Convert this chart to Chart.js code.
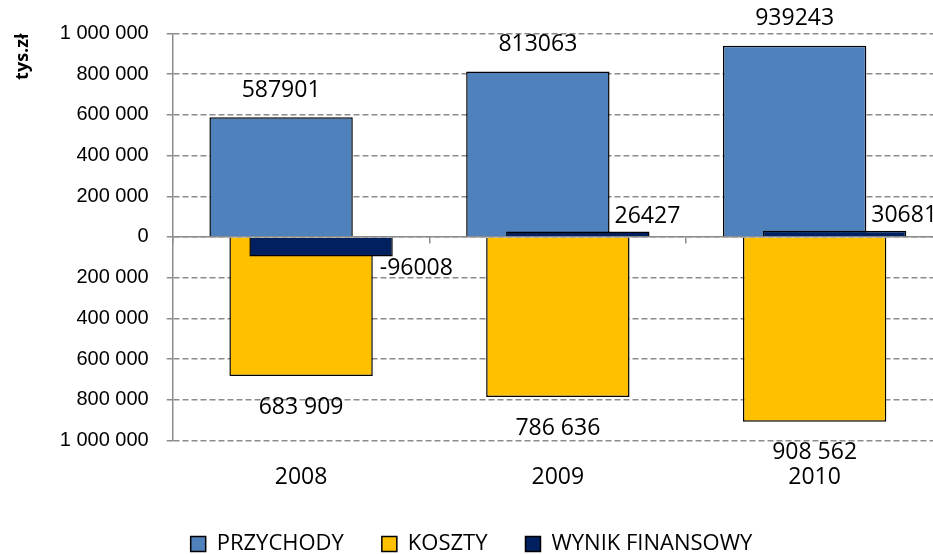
<!DOCTYPE html>
<html>
<head>
<meta charset="utf-8">
<title>Przychody, koszty, wynik finansowy</title>
<script src="https://cdn.jsdelivr.net/npm/chart.js@4.4.1/dist/chart.umd.min.js"></script>
<style>
  html, body { margin: 0; padding: 0; background: #fff; }
  /* the original picture is cropped on the right, so the canvas is a bit bigger than the frame */
  .frame { width: 933px; height: 554px; overflow: hidden; }
</style>
</head>
<body>
<div class="frame"><canvas id="chart" width="960" height="565"></canvas></div>
<script>
// data (tys. zł)
const years = ['2008', '2009', '2010'];
const przychody = [587901, 813063, 939243];
const koszty = [-683909, -786636, -908562];
const wynik = [-96008, 26427, 30681];

// value axis
const yMin = -1000000;
const yMax = 1000000;
const yStep = 200000;

const gridColor = '#8c8c8c';
const labelFont = '"Open Sans", "Noto Sans", sans-serif';

// 683909 -> "683 909"
const spaced = v => Math.abs(v).toString().replace(/\B(?=(\d{3})+(?!\d))/g, ' ');

// Excel puts the later series on top, so draw the bars in dataset order, then the value labels
const barLabels = {
  id: 'barLabels',
  beforeDatasetsDraw(chart) {
    chart.data.datasets.forEach((ds, i) => chart.getDatasetMeta(i).controller.draw());

    const ctx = chart.ctx;
    ctx.save();
    ctx.font = '23px ' + labelFont;
    ctx.fillStyle = '#000';
    ctx.textBaseline = 'middle';
    chart.data.datasets.forEach((ds, i) => {
      chart.getDatasetMeta(i).data.forEach((bar, j) => {
        const v = ds.data[j];
        const { x, y, width } = bar.getProps(['x', 'y', 'width'], true);
        if (ds.labelPos === 'top') {
          ctx.textAlign = 'center';
          ctx.fillText(String(v), x, y - 27);
        } else if (ds.labelPos === 'bottom') {
          ctx.textAlign = 'center';
          ctx.fillText(spaced(v), x, y + 31);
        } else {
          ctx.textAlign = 'left';
          if (v < 0) ctx.fillText(String(v), x + width / 2 - 13, y + 12);
          else ctx.fillText(String(v), x + width / 2 - 35, y - 15);
        }
      });
    });
    ctx.restore();
    return false;
  }
};

new Chart(document.getElementById('chart'), {
  type: 'bar',
  data: {
    labels: years,
    datasets: [
      { label: 'PRZYCHODY', data: przychody, backgroundColor: '#4f81bd', labelPos: 'top' },
      { label: 'KOSZTY', data: koszty, backgroundColor: '#ffc000', labelPos: 'bottom' },
      { label: 'WYNIK FINANSOWY', data: wynik, backgroundColor: '#002060', labelPos: 'side' }
    ]
  },
  options: {
    responsive: false,
    animation: false,
    devicePixelRatio: 1,
    layout: { padding: { top: 33.5, right: 17, left: 0, bottom: 0 } },
    datasets: {
      bar: {
        borderColor: '#000',
        borderWidth: 1.5,
        // overlapping bars, each one shifted ~20px
        categoryPercentage: 0.2335,
        barPercentage: 7.175
      }
    },
    scales: {
      // axis line through zero, with the category tick marks
      x: {
        type: 'category',
        position: { y: 0 },
        offset: true,
        grid: { display: true, offset: true, drawOnChartArea: false, drawTicks: true, tickLength: 6, tickColor: gridColor, lineWidth: 1.5 },
        border: { display: true, color: gridColor, width: 1.5 },
        ticks: { display: false }
      },
      // year labels under the plot
      xl: {
        type: 'category',
        position: 'bottom',
        offset: true,
        grid: { display: false, drawTicks: false },
        border: { display: false },
        ticks: { padding: 23.3, color: '#000', font: { family: labelFont, size: 23 } },
        afterFit: scale => { scale.height = 54.6; }
      },
      y: {
        min: yMin,
        max: yMax,
        ticks: {
          stepSize: yStep,
          padding: 18,
          color: '#000',
          font: { family: '"Liberation Sans", Arial, sans-serif', size: 20 },
          callback: v => spaced(v)
        },
        grid: { color: gridColor, lineWidth: 1.5, tickLength: 6, tickColor: gridColor, tickBorderDash: [] },
        border: { display: true, color: gridColor, width: 1.5, dash: [6, 3] },
        title: {
          display: true,
          text: 'tys.zł',
          align: 'end',
          color: '#000',
          font: { family: labelFont, size: 18, weight: 'bold' },
          padding: { top: 12.2, bottom: 0 }
        },
        afterFit: scale => { scale.width = 172.7; }
      }
    },
    plugins: {
      legend: {
        position: 'bottom',
        labels: {
          boxWidth: 15,
          boxHeight: 15,
          padding: 38,
          color: '#000',
          font: { family: labelFont, size: 22 }
        }
      },
      tooltip: { enabled: false }
    }
  },
  plugins: [barLabels]
});
</script>
</body>
</html>
